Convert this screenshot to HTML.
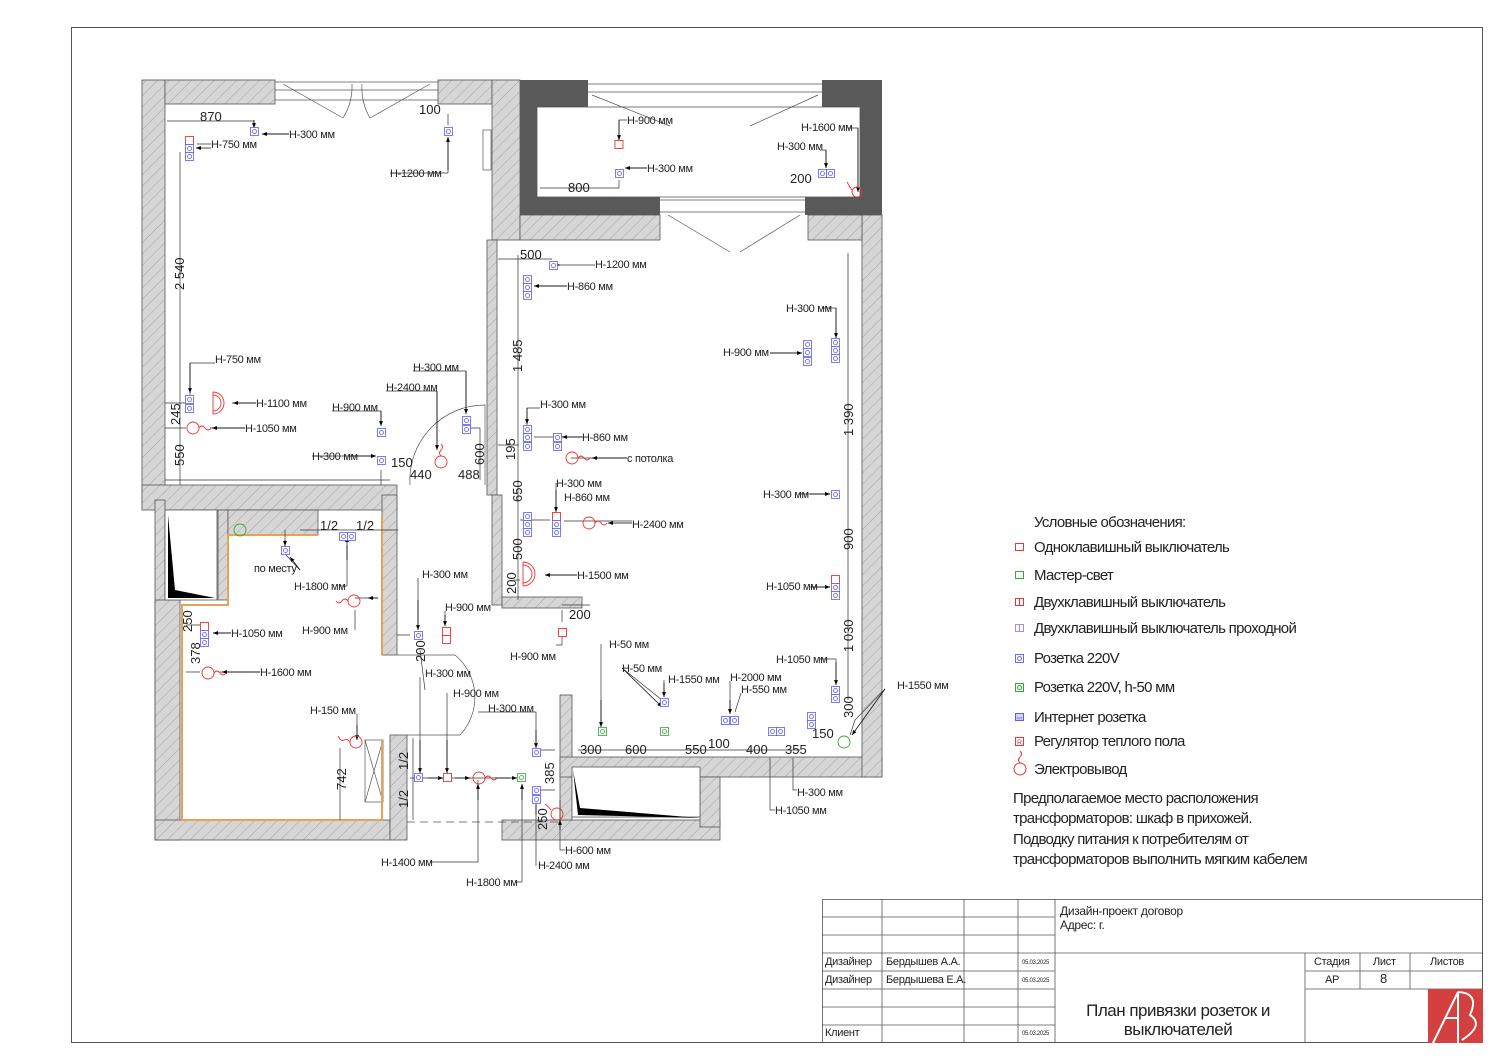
<!DOCTYPE html>
<html><head><meta charset="utf-8"><style>
html,body{margin:0;padding:0;background:#fff}
svg{display:block}
text{font-family:"Liberation Sans Narrow","Liberation Sans",sans-serif;fill:#222}
.t{font-size:11px;letter-spacing:-0.3px}
.d{font-size:13px}
.lg{font-size:15px;letter-spacing:-0.7px}
</style></head><body>
<svg width="1500" height="1059" viewBox="0 0 1500 1059" xmlns="http://www.w3.org/2000/svg">
<defs>
<pattern id="h" width="8" height="8" patternUnits="userSpaceOnUse" patternTransform="rotate(45)">
<rect width="8" height="8" fill="#d6d6d6"/><line x1="0" y1="0" x2="0" y2="8" stroke="#8a8a8a" stroke-width="0.7"/>
</pattern>
<symbol id="s" viewBox="0 0 9 9"><rect x="0.5" y="0.5" width="8" height="8" fill="#fff" stroke="#5a5aff" stroke-width="0.8"/><circle cx="4.5" cy="4.5" r="2" fill="none" stroke="#5a5aff" stroke-width="0.8"/></symbol>
<symbol id="g" viewBox="0 0 9 9"><rect x="0.5" y="0.5" width="8" height="8" fill="#fff" stroke="#3a3" stroke-width="0.8"/><circle cx="4.5" cy="4.5" r="2" fill="none" stroke="#3a3" stroke-width="0.8"/></symbol>
<symbol id="r" viewBox="0 0 9 9"><rect x="0.5" y="0.5" width="8" height="8" fill="#fff" stroke="#e33" stroke-width="0.9"/></symbol>
<marker id="a" viewBox="0 0 10 10" refX="10" refY="5" markerWidth="7" markerHeight="7" orient="auto"><path d="M0,1 L10,5 L0,9z" fill="#000"/></marker>
</defs>
<rect width="1500" height="1059" fill="#fff"/>
<rect x="71.5" y="27.5" width="1411" height="1015" fill="none" stroke="#555" stroke-width="1"/>

<g fill="url(#h)" stroke="#555" stroke-width="0.8">
<rect x="142" y="80" width="23" height="425"/>
<rect x="165" y="80" width="110" height="24"/>
<rect x="438" y="80" width="54" height="24"/>
<rect x="492" y="80" width="28" height="160"/>
<rect x="487" y="240" width="10" height="255"/>
<rect x="492" y="495" width="10" height="110"/>
<rect x="142" y="485" width="255" height="25"/>
<rect x="382" y="495" width="15" height="160"/>
<rect x="155" y="500" width="10" height="340"/>
<rect x="155" y="600" width="25" height="240"/>
<rect x="218" y="510" width="10" height="90"/>
<rect x="228" y="510" width="90" height="25"/>
<rect x="155" y="820" width="235" height="20"/>
<rect x="390" y="735" width="17" height="105"/>
<rect x="502" y="820" width="218" height="20"/>
<rect x="560" y="695" width="12" height="125"/>
<rect x="560" y="757" width="322" height="20"/>
<rect x="700" y="777" width="20" height="50"/>
<rect x="862" y="215" width="20" height="562"/>
<rect x="520" y="215" width="140" height="25"/>
<rect x="808" y="215" width="54" height="25"/>
<rect x="502" y="597" width="80" height="11"/>
</g>
<rect x="165" y="510" width="52" height="90" fill="#fff" stroke="#555" stroke-width="0.8"/>
<path d="M168,515 L175,590 L215,598 L168,598z" fill="#000"/>
<rect x="572" y="767" width="128" height="50" fill="#fff" stroke="#555" stroke-width="0.8"/>
<path d="M573,770 L578,815 L700,818 L580,808z" fill="#000"/>
<g fill="#595959">
<rect x="520" y="80" width="68" height="27"/>
<rect x="822" y="80" width="60" height="27"/>
<rect x="520" y="80" width="17" height="135"/>
<rect x="520" y="197" width="140" height="18"/>
<rect x="805" y="197" width="55" height="18"/>
<rect x="860" y="80" width="22" height="135"/>
</g>
<rect x="537" y="107" width="323" height="90" fill="#fff" stroke="#555" stroke-width="0.8"/>
<g fill="none" stroke="#555" stroke-width="0.7">
<line x1="275" y1="82" x2="438" y2="82"/><line x1="275" y1="90" x2="438" y2="90"/><line x1="275" y1="100" x2="438" y2="100"/>
<path d="M283,84 L343,118 M430,84 L370,118"/>
<path d="M343,118 A60,60 0 0 0 352,84 M370,118 A60,60 0 0 1 362,84"/>
<line x1="588" y1="84" x2="822" y2="84"/><line x1="588" y1="92" x2="822" y2="92"/>
<path d="M592,95 L670,126 M818,95 L750,126"/>
<line x1="660" y1="200" x2="805" y2="200"/><line x1="660" y1="212" x2="805" y2="212"/>
<path d="M668,215 L730,252 M800,215 L740,252"/>
<path d="M410,485 A75,75 0 0 1 485,405 L485,485"/>
<path d="M397,655 L455,655 A55,55 0 0 1 460,735 L407,735"/>
<path d="M407,822 L560,822" stroke-dasharray="8,5"/>
<rect x="365" y="740" width="18" height="62"/><path d="M365,740 L383,802 M383,740 L365,802"/>
<rect x="483" y="130" width="8" height="40"/>
</g>
<g fill="none" stroke="#e8a05a" stroke-width="2">
<path d="M382,515 L382,655"/>
<path d="M318,535 L228,535 L228,605 L182,605 L182,820 L382,820 L382,740"/>
</g>

<g stroke="#333" stroke-width="0.7" fill="none">
<path d="M167,121 L254,121 M180,152 L180,485 M165,480 L390,480"/>
<path d="M448,114 L448,125 M448,173 L448,140 M390,173 L448,173"/>
<path d="M254,121 L254,128 M289,134 L262,134 M211,144 L197,144"/>
<path d="M190,363 L190,395 M215,363 L190,363 M256,403 L232,403 M245,428 L210,428 M165,403 L186,403 M165,428 L186,428"/>
<path d="M466,371 L466,410 M413,371 L466,371 M437,391 L437,450 M386,391 L437,391 M381,411 L381,425 M332,411 L381,411 M312,456 L375,456 M381,470 L381,485 M466,428 L480,428 L480,480"/>
<path d="M518,255 L518,600 M498,259 L552,259 M552,265 L595,265 M534,286 L567,286 M534,437 L567,437 M583,437 L560,437 M571,458 L627,458 M498,445 L519,445 M527,408 L540,408 M527,408 L527,425 M556,483 L556,510 M520,520 L550,520 M564,521 L632,521 M545,575 L577,575 M514,580 L520,580"/>
<path d="M822,308 L836,308 L836,338 M770,353 L802,353 M848,253 L848,700 M798,494 L830,494 M810,587 L830,587 M820,659 L836,659 L836,683 M885,689 L855,720 L850,735"/>
<path d="M601,644 L601,725 M622,668 L662,700 M664,680 L664,697 M730,681 L730,712 M741,693 L735,712 M578,750 L800,750"/>
<path d="M770,758 L770,810 L775,810 M793,758 L793,790 L797,790"/>
<path d="M556,645 L562,645 L562,635 M562,610 L562,622 M562,605 L590,605"/>
<path d="M627,120 L619,120 L619,140 M647,168 L625,168 M540,188 L619,188 L619,180 M848,128 L858,128 L858,190 M820,150 L826,150 L826,168"/>
<path d="M285,530 L285,545 M300,530 L398,530 M347,545 L347,586 L340,586 M285,554 L300,570"/>
<path d="M418,578 L418,630 M445,611 L445,626 M355,598 L378,598 M355,630 L355,610 M231,633 L213,633 M186,625 L200,625 M186,672 L200,672 M260,672 L220,672 M397,635 L410,635 M420,650 L425,690"/>
<path d="M420,677 L420,770 M447,693 L447,770 M357,714 L357,740 M478,712 L536,712 L536,745 M340,748 L340,820 M413,738 L413,820 M540,750 L555,750 M540,790 L555,790"/>
<path d="M478,780 L478,862 L430,862 M522,785 L522,882 L515,882 M536,805 L536,866 M560,800 L560,850 L565,850"/>
<path d="M410,778 L510,778"/>
</g>

<g stroke="#000" stroke-width="0.7" marker-end="url(#a)">
<line x1="289" y1="134" x2="262" y2="134"/><line x1="211" y1="148" x2="196" y2="148"/>
<line x1="448" y1="170" x2="448" y2="137"/><line x1="254" y1="120" x2="254" y2="128"/>
<line x1="190" y1="363" x2="190" y2="393"/><line x1="256" y1="403" x2="233" y2="403"/><line x1="245" y1="428" x2="212" y2="428"/>
<line x1="466" y1="371" x2="466" y2="414"/><line x1="437" y1="391" x2="437" y2="450"/><line x1="381" y1="411" x2="381" y2="426"/><line x1="350" y1="456" x2="376" y2="456"/>
<line x1="552" y1="265" x2="560" y2="265"/><line x1="567" y1="286" x2="534" y2="286"/><line x1="582" y1="437" x2="562" y2="437"/><line x1="627" y1="458" x2="592" y2="458"/>
<line x1="527" y1="408" x2="527" y2="424"/><line x1="556" y1="490" x2="556" y2="512"/><line x1="632" y1="523" x2="608" y2="523"/><line x1="577" y1="575" x2="545" y2="575"/>
<line x1="836" y1="308" x2="836" y2="338"/><line x1="770" y1="353" x2="802" y2="353"/><line x1="810" y1="494" x2="830" y2="494"/><line x1="812" y1="587" x2="830" y2="587"/><line x1="836" y1="662" x2="836" y2="685"/>
<line x1="858" y1="128" x2="858" y2="192"/><line x1="619" y1="120" x2="619" y2="140"/><line x1="647" y1="168" x2="625" y2="168"/><line x1="826" y1="150" x2="826" y2="168"/>
<line x1="601" y1="700" x2="601" y2="727"/><line x1="622" y1="668" x2="662" y2="707"/><line x1="664" y1="683" x2="664" y2="697"/><line x1="730" y1="700" x2="730" y2="714"/>
<line x1="347" y1="560" x2="347" y2="537"/><line x1="285" y1="540" x2="285" y2="546"/><line x1="300" y1="570" x2="290" y2="557"/>
<line x1="418" y1="600" x2="418" y2="630"/><line x1="445" y1="615" x2="445" y2="626"/><line x1="378" y1="598" x2="368" y2="598"/>
<line x1="231" y1="633" x2="213" y2="633"/><line x1="260" y1="672" x2="222" y2="672"/>
<line x1="420" y1="740" x2="420" y2="773"/><line x1="447" y1="740" x2="447" y2="773"/><line x1="536" y1="730" x2="536" y2="748"/><line x1="357" y1="725" x2="357" y2="740"/>
<line x1="478" y1="800" x2="478" y2="784"/><line x1="522" y1="800" x2="522" y2="784"/><line x1="536" y1="815" x2="536" y2="798"/><line x1="560" y1="830" x2="560" y2="820"/>
<line x1="428" y1="778" x2="443" y2="778"/><line x1="455" y1="778" x2="470" y2="778"/><line x1="495" y1="778" x2="517" y2="778"/>
<line x1="885" y1="689" x2="852" y2="735"/>
</g>

<g>
<use href="#s" x="250" y="127" width="9" height="9"/>
<use href="#s" x="444" y="127" width="9" height="9"/>
<use href="#r" x="185" y="136" width="9" height="9"/>
<use href="#s" x="185" y="144" width="9" height="9"/><use href="#s" x="185" y="152" width="9" height="9"/>
<use href="#s" x="185" y="395" width="9" height="9"/><use href="#s" x="185" y="404" width="9" height="9"/>
<use href="#s" x="377" y="456" width="9" height="9"/>
<use href="#s" x="462" y="416" width="9" height="9"/><use href="#s" x="462" y="425" width="9" height="9"/>
<use href="#s" x="549" y="261" width="9" height="9"/>
<use href="#s" x="523" y="275" width="9" height="9"/><use href="#s" x="523" y="283" width="9" height="9"/><use href="#s" x="523" y="291" width="9" height="9"/>
<use href="#s" x="523" y="425" width="9" height="9"/><use href="#s" x="523" y="433" width="9" height="9"/><use href="#s" x="523" y="442" width="9" height="9"/>
<use href="#s" x="553" y="433" width="9" height="9"/><use href="#s" x="553" y="442" width="9" height="9"/>
<use href="#s" x="523" y="512" width="9" height="9"/><use href="#s" x="523" y="520" width="9" height="9"/><use href="#s" x="523" y="528" width="9" height="9"/>
<use href="#r" x="552" y="512" width="9" height="9"/><use href="#s" x="552" y="520" width="9" height="9"/><use href="#s" x="552" y="528" width="9" height="9"/>
<use href="#s" x="615" y="169" width="9" height="9"/><use href="#r" x="612" y="140" width="14" height="9"/>
<use href="#s" x="818" y="169" width="9" height="9"/><use href="#s" x="826" y="169" width="9" height="9"/>
<use href="#s" x="831" y="338" width="9" height="9"/><use href="#s" x="831" y="346" width="9" height="9"/><use href="#s" x="831" y="354" width="9" height="9"/>
<use href="#s" x="803" y="340" width="9" height="9"/><use href="#s" x="803" y="348" width="9" height="9"/><use href="#s" x="803" y="357" width="9" height="9"/>
<use href="#s" x="831" y="490" width="9" height="9"/>
<use href="#r" x="831" y="575" width="9" height="9"/><use href="#s" x="831" y="583" width="9" height="9"/><use href="#s" x="831" y="591" width="9" height="9"/>
<use href="#s" x="831" y="686" width="9" height="9"/><use href="#s" x="831" y="694" width="9" height="9"/>
<use href="#s" x="807" y="712" width="9" height="9"/><use href="#s" x="807" y="720" width="9" height="9"/>
<use href="#s" x="768" y="727" width="9" height="9"/><use href="#s" x="776" y="727" width="9" height="9"/>
<use href="#s" x="721" y="716" width="9" height="9"/><use href="#s" x="730" y="716" width="9" height="9"/>
<use href="#s" x="660" y="698" width="9" height="9"/>
<use href="#g" x="598" y="727" width="9" height="9"/><use href="#g" x="660" y="727" width="9" height="9"/>
<use href="#s" x="281" y="546" width="9" height="9"/>
<use href="#s" x="339" y="532" width="9" height="9"/><use href="#s" x="347" y="532" width="9" height="9"/>
<use href="#r" x="200" y="622" width="9" height="9"/><use href="#s" x="200" y="630" width="9" height="9"/><use href="#s" x="200" y="638" width="9" height="9"/>
<use href="#s" x="414" y="631" width="9" height="9"/>
<use href="#r" x="442" y="627" width="9" height="9"/><use href="#r" x="442" y="635" width="9" height="9"/>
<use href="#r" x="558" y="628" width="9" height="9"/>
<use href="#s" x="414" y="773" width="9" height="9"/><use href="#r" x="443" y="773" width="9" height="9"/>
<use href="#g" x="517" y="773" width="9" height="9"/>
<use href="#s" x="532" y="748" width="9" height="9"/>
<use href="#s" x="532" y="786" width="9" height="9"/><use href="#s" x="532" y="795" width="9" height="9"/>
<use href="#s" x="377" y="428" width="9" height="9"/>
</g>
<g fill="none" stroke="#e33" stroke-width="0.9">
<circle cx="193" cy="428" r="6"/><path d="M199,428 q3,-4 6,0 t6,0"/>
<path d="M213,392 A11,11 0 0 1 213,414 M213,395 A8,8 0 0 1 213,411 M213,392 L213,414"/>
<circle cx="441" cy="462" r="6"/><path d="M441,456 q-3,-3 0,-6 t0,-6"/>
<circle cx="572" cy="458" r="6"/><path d="M578,458 q3,-4 6,0 t6,0"/>
<circle cx="589" cy="523" r="6"/><path d="M595,523 q3,-4 6,0 t6,0"/>
<path d="M523,562 A11,11 0 0 1 523,586 M523,565 A8,8 0 0 1 523,583 M523,562 L523,586"/>
<circle cx="354" cy="601" r="6"/><path d="M348,601 q-3,-4 -6,0 t-6,0"/>
<circle cx="208" cy="673" r="6"/><path d="M214,673 q3,-4 6,0 t6,0"/>
<circle cx="356" cy="742" r="6"/><path d="M350,742 q-3,-4 -6,-2 t-6,-4"/>
<circle cx="479" cy="778" r="6"/><path d="M485,778 q3,-4 6,0 t6,0"/>
<circle cx="557" cy="814" r="6"/><path d="M551,810 q-3,-4 -6,-6"/>
<circle cx="857" cy="192" r="5"/><path d="M852,190 q-3,-4 -5,-8"/>
<circle cx="844" cy="742" r="6" stroke="#3a3"/>
<circle cx="240" cy="530" r="6" stroke="#3a3"/>
</g>

<g class="t">
<text x="289" y="138">H-300 мм</text><text x="211" y="148">H-750 мм</text><text x="390" y="177">H-1200 мм</text>
<text x="215" y="363">H-750 мм</text><text x="256" y="407">H-1100 мм</text><text x="245" y="432">H-1050 мм</text>
<text x="413" y="371">H-300 мм</text><text x="386" y="391">H-2400 мм</text><text x="332" y="411">H-900 мм</text><text x="312" y="460">H-300 мм</text>
<text x="595" y="268">H-1200 мм</text><text x="567" y="290">H-860 мм</text><text x="540" y="408">H-300 мм</text><text x="582" y="441">H-860 мм</text><text x="627" y="462">с потолка</text>
<text x="556" y="487">H-300 мм</text><text x="564" y="501">H-860 мм</text><text x="632" y="528">H-2400 мм</text><text x="577" y="579">H-1500 мм</text><text x="510" y="660">H-900 мм</text>
<text x="627" y="124">H-900 мм</text><text x="647" y="172">H-300 мм</text><text x="801" y="131">H-1600 мм</text><text x="777" y="150">H-300 мм</text>
<text x="786" y="312">H-300 мм</text><text x="723" y="356">H-900 мм</text><text x="763" y="498">H-300 мм</text><text x="766" y="590">H-1050 мм</text><text x="776" y="663">H-1050 мм</text><text x="897" y="689">H-1550 мм</text>
<text x="609" y="648">H-50 мм</text><text x="622" y="672">H-50 мм</text><text x="668" y="683">H-1550 мм</text><text x="730" y="681">H-2000 мм</text><text x="741" y="693">H-550 мм</text>
<text x="797" y="796">H-300 мм</text><text x="775" y="814">H-1050 мм</text>
<text x="254" y="572">по месту</text><text x="294" y="590">H-1800 мм</text><text x="422" y="578">H-300 мм</text><text x="445" y="611">H-900 мм</text><text x="302" y="634">H-900 мм</text>
<text x="231" y="637">H-1050 мм</text><text x="260" y="676">H-1600 мм</text><text x="425" y="677">H-300 мм</text><text x="453" y="697">H-900 мм</text><text x="310" y="714">H-150 мм</text><text x="488" y="712">H-300 мм</text>
<text x="565" y="854">H-600 мм</text><text x="538" y="869">H-2400 мм</text><text x="381" y="866">H-1400 мм</text><text x="466" y="886">H-1800 мм</text>
</g>
<g class="d">
<text x="200" y="121">870</text><text x="419" y="114">100</text><text x="391" y="467">150</text><text x="410" y="479">440</text><text x="458" y="479">488</text>
<text x="520" y="259">500</text><text x="569" y="619">200</text><text x="568" y="192">800</text><text x="790" y="183">200</text><text x="812" y="738">150</text>
<text x="580" y="754">300</text><text x="625" y="754">600</text><text x="685" y="754">550</text><text x="708" y="748">100</text><text x="746" y="754">400</text><text x="785" y="754">355</text>
<text x="320" y="530">1/2</text><text x="356" y="530">1/2</text>
<text transform="translate(184,290) rotate(-90)">2 540</text>
<text transform="translate(180,425) rotate(-90)">245</text>
<text transform="translate(184,466) rotate(-90)">550</text>
<text transform="translate(484,465) rotate(-90)">600</text>
<text transform="translate(522,372) rotate(-90)">1 485</text>
<text transform="translate(515,460) rotate(-90)">195</text>
<text transform="translate(522,502) rotate(-90)">650</text>
<text transform="translate(522,560) rotate(-90)">500</text>
<text transform="translate(516,594) rotate(-90)">200</text>
<text transform="translate(853,436) rotate(-90)">1 390</text>
<text transform="translate(853,550) rotate(-90)">900</text>
<text transform="translate(853,652) rotate(-90)">1 030</text>
<text transform="translate(853,718) rotate(-90)">300</text>
<text transform="translate(192,632) rotate(-90)">250</text>
<text transform="translate(200,664) rotate(-90)">378</text>
<text transform="translate(425,662) rotate(-90)">200</text>
<text transform="translate(346,790) rotate(-90)">742</text>
<text transform="translate(408,770) rotate(-90)">1/2</text>
<text transform="translate(408,808) rotate(-90)">1/2</text>
<text transform="translate(554,784) rotate(-90)">385</text>
<text transform="translate(547,830) rotate(-90)">250</text>
</g>

<g class="lg">
<text x="1034" y="527">Условные обозначения:</text>
<text x="1034" y="552">Одноклавишный выключатель</text>
<text x="1034" y="580">Мастер-свет</text>
<text x="1034" y="607">Двухклавишный выключатель</text>
<text x="1034" y="633">Двухклавишный выключатель проходной</text>
<text x="1034" y="663">Розетка 220V</text>
<text x="1034" y="692">Розетка 220V, h-50 мм</text>
<text x="1034" y="722">Интернет розетка</text>
<text x="1034" y="746">Регулятор теплого пола</text>
<text x="1034" y="774">Электровывод</text>
<text x="1013" y="803">Предполагаемое место расположения</text>
<text x="1013" y="823">трансформаторов: шкаф в прихожей.</text>
<text x="1013" y="844">Подводку питания к потребителям от</text>
<text x="1013" y="864">трансформаторов выполнить мягким кабелем</text>
</g>
<g fill="#fff" stroke-width="1">
<rect x="1015.5" y="543.5" width="8" height="7" stroke="#e33"/>
<rect x="1015.5" y="571.5" width="8" height="7" stroke="#3a3"/>
<rect x="1015.5" y="598.5" width="8" height="7" stroke="#e33"/><line x1="1019.5" y1="599" x2="1019.5" y2="605" stroke="#e33"/>
<rect x="1015.5" y="624.5" width="8" height="7" stroke="#a58ee8"/><line x1="1019.5" y1="625" x2="1019.5" y2="631" stroke="#a58ee8"/>
<rect x="1015.5" y="654.5" width="8" height="8" stroke="#6a6aff"/><circle cx="1019.5" cy="658.5" r="2" stroke="#6a6aff"/>
<rect x="1015.5" y="683.5" width="8" height="8" stroke="#3a3"/><circle cx="1019.5" cy="687.5" r="2" stroke="#3a3"/>
<rect x="1015.5" y="713.5" width="8" height="7" stroke="#5a5aff" fill="#d6d6ff"/>
<rect x="1015.5" y="737.5" width="8" height="8" stroke="#e33"/>
<circle cx="1020" cy="769" r="6" stroke="#e33" fill="none"/>
<path d="M1020,763 q-3,-3 0,-6 t0,-6" stroke="#e33" fill="none"/>
</g>
<text x="1016.5" y="719.5" style="font-size:4px;fill:#5a5aff">INT</text>
<text x="1017" y="744.5" style="font-size:7px;fill:#e33">R</text>

<g stroke="#555" stroke-width="0.8" fill="none">
<rect x="822.5" y="899.5" width="660" height="143"/>
<line x1="882" y1="899" x2="882" y2="1043"/><line x1="964" y1="899" x2="964" y2="1043"/><line x1="1018" y1="899" x2="1018" y2="1043"/><line x1="1055" y1="899" x2="1055" y2="1043"/>
<line x1="822" y1="917" x2="1055" y2="917"/><line x1="822" y1="935" x2="1055" y2="935"/><line x1="822" y1="953" x2="1483" y2="953"/><line x1="822" y1="971" x2="1055" y2="971"/><line x1="822" y1="989" x2="1055" y2="989"/><line x1="822" y1="1007" x2="1055" y2="1007"/><line x1="822" y1="1025" x2="1055" y2="1025"/>
<line x1="1305" y1="953" x2="1305" y2="1043"/><line x1="1360" y1="953" x2="1360" y2="989"/><line x1="1410" y1="953" x2="1410" y2="989"/>
<line x1="1305" y1="971" x2="1483" y2="971"/><line x1="1305" y1="989" x2="1483" y2="989"/>
</g>
<rect x="1428" y="989" width="55" height="54" fill="#d43f3f"/>
<path d="M1433,1043 L1458,992 L1458,1043 M1446,1018 L1458,1018 M1458,992 Q1480,993 1470,1015 Q1485,1025 1462,1040" fill="none" stroke="#fff" stroke-width="2"/>
<g class="t">
<text x="1060" y="915" style="font-size:12px">Дизайн-проект договор</text>
<text x="1060" y="929" style="font-size:12px">Адрес: г.</text>
<text x="825" y="965">Дизайнер</text><text x="886" y="965">Бердышев А.А.</text>
<text x="825" y="983">Дизайнер</text><text x="886" y="983">Бердышева Е.А.</text>
<text x="825" y="1036">Клиент</text>
<text x="1022" y="964" style="font-size:6px">05.03.2025</text><text x="1022" y="982" style="font-size:6px">05.03.2025</text><text x="1022" y="1035" style="font-size:6px">05.03.2025</text>
<text x="1314" y="965">Стадия</text><text x="1373" y="965">Лист</text><text x="1430" y="965">Листов</text>
<text x="1325" y="983">АР</text><text x="1380" y="983" style="font-size:13px">8</text>
</g>
<text x="1178" y="1016" text-anchor="middle" style="font-size:17px;letter-spacing:-0.5px">План привязки розеток и</text>
<text x="1178" y="1035" text-anchor="middle" style="font-size:17px;letter-spacing:-0.5px">выключателей</text>
</svg>
</body></html>
